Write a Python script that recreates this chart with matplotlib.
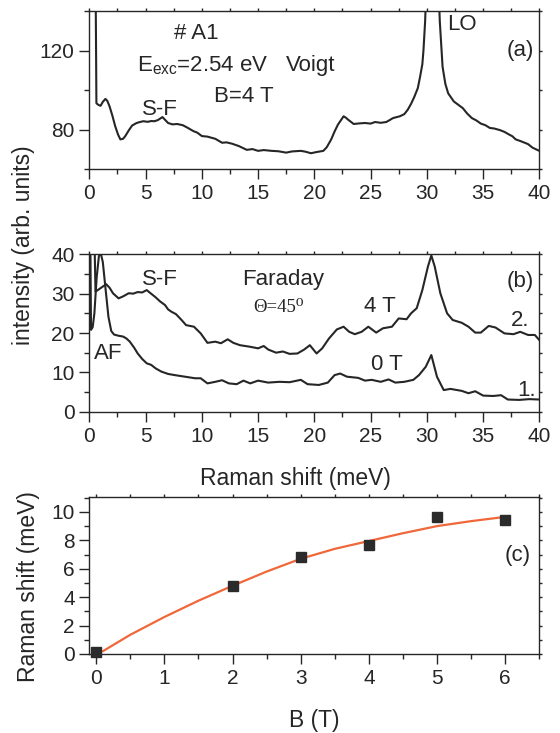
import numpy as np
import matplotlib
matplotlib.use('Agg')
import matplotlib.pyplot as plt
from matplotlib.ticker import MultipleLocator

plt.rcParams['font.family'] = ['Liberation Sans', 'DejaVu Sans']
plt.rcParams['mathtext.fontset'] = 'custom'
plt.rcParams['mathtext.rm'] = 'Liberation Sans'
plt.rcParams['mathtext.it'] = 'Liberation Sans:italic'

INK = '#262626'

# panel (a): Voigt geometry, B = 4 T
shift_a = [0.55, 0.6, 0.63, 0.8, 1.0, 1.2, 1.43, 1.6, 1.8, 2.05, 2.3, 2.55, 2.76, 3.0, 3.2,
           3.5, 3.8, 4.2, 4.5, 4.8, 5.2, 5.5, 5.8, 6.1, 6.5, 6.8, 7.0, 7.4, 7.8, 8.3,
           8.7, 9.25, 9.6, 10.0, 10.5, 11.2, 11.8, 12.2, 12.7, 13.3, 14.0, 14.5, 15.0, 15.5,
           16.2, 16.8, 17.5, 18.0, 18.8, 19.2, 19.7, 20.2, 20.8, 21.1, 21.5, 21.8, 22.1, 22.4,
           22.6, 22.8, 23.0, 23.5, 24.0, 24.5, 25.0, 25.4, 25.9, 26.4, 27.0, 27.6, 28.0, 28.3,
           28.6, 28.9, 29.2, 29.4, 29.6, 29.7, 29.85, 30.0, 30.5, 31.0, 31.15, 31.4, 31.65, 31.9,
           32.4, 32.8, 33.2, 33.6, 34.0, 34.4, 34.8, 35.2, 35.6, 36.0, 36.5, 36.9, 37.3, 37.6,
           37.9, 38.3, 38.7, 39.0, 39.4, 39.7, 40.0]
int_a = [160, 120, 93.3, 92.5, 92, 94, 95.5, 94.5, 91.7, 87, 81.7, 77.5, 75, 75.3, 76.7,
         79.5, 82, 83.3, 83.8, 84.2, 83.9, 84.3, 84.2, 84.8, 86.3, 84.5, 83.3, 82.6, 82.8, 82.2,
         81, 79.2, 78.4, 76.7, 76.4, 75.3, 73.3, 73.5, 72.8, 71.6, 69.7, 70.1, 69.2, 69.6,
         69.2, 69.0, 68.3, 68.9, 69.2, 68.8, 68.0, 68.6, 69.2, 71, 75, 79, 82.5, 85,
         86.7, 86, 85, 82.8, 83.1, 83.3, 83.0, 83.8, 83.4, 83.8, 85.8, 86.7, 87.8, 90,
         93, 96.7, 101, 106.7, 113, 120, 135, 160, 170, 160, 135, 111.7, 103, 98.3,
         94.2, 92.5, 90.8, 88, 85.8, 84.6, 83, 82.2, 80.8, 80.5, 79.7, 78.8, 77.5, 76.6,
         75, 74.2, 73.3, 72.6, 70.8, 70.0, 69.2]

# panel (b): Faraday geometry, curve 2 = 4 T, curve 1 = 0 T
shift_4t = [0.05, 0.45, 0.55, 0.8, 1.2, 1.5, 1.8, 2.1, 2.6, 3.0, 3.5, 3.9, 4.3, 4.7, 5.1,
            5.4, 5.84, 6.3, 6.73, 7.0, 7.3, 7.7, 8.2, 8.6, 9.3, 9.9, 10.5, 11.2, 11.7, 12.3,
            12.8, 13.4, 14.3, 15.0, 15.5, 15.9, 16.6, 17.2, 17.8, 18.5, 19.1, 19.6, 20.2, 20.7,
            21.3, 22.0, 22.6, 23.1, 23.6, 24.2, 24.8, 25.5, 26.1, 26.9, 27.5, 28.2, 28.6, 29.1,
            29.6, 30.1, 30.4, 30.7, 31.2, 31.8, 32.3, 33.1, 33.7, 34.3, 34.8, 35.5, 36.1, 36.9,
            37.7, 38.3, 39.0, 39.6, 40.0]
int_4t = [60, 45, 30.5, 31, 31.8, 32.4, 31.5, 30.1, 28.8, 29.3, 30.1, 30.0, 30.4, 30.3, 30.9,
          30.2, 29.2, 28.0, 27.1, 26.0, 25.4, 24.8, 23.3, 22.0, 21.6, 19.9, 17.5, 17.8, 17.4, 18.4,
          17.5, 16.9, 16.5, 16.1, 16.7, 15.8, 15.0, 15.3, 14.7, 14.8, 15.8, 16.9, 14.8, 16.1,
          18.6, 20.9, 21.6, 20.3, 19.7, 20.3, 21.6, 20.1, 21.2, 21.6, 23.7, 23.5, 25.0, 26.3,
          30.9, 36.9, 39.7, 36.9, 30.1, 25.0, 23.3, 22.6, 21.6, 20.1, 20.1, 21.8, 21.4, 19.9,
          19.7, 20.3, 19.5, 19.5, 18.2]

shift_0t = [0.05, 0.15, 0.3, 0.45, 0.65, 0.85, 1.0, 1.2, 1.45, 1.7, 1.95, 2.2, 2.6, 3.0, 3.3,
            3.6, 4.0, 4.3, 4.7, 5.1, 5.5, 5.9, 6.4, 7.0, 7.6, 8.5, 9.4, 9.9, 10.5, 11.2,
            11.8, 12.4, 13.1, 13.7, 14.3, 15.0, 15.9, 16.9, 17.8, 18.8, 19.4, 20.4, 21.2, 21.8,
            22.3, 22.9, 23.9, 24.5, 25.1, 25.9, 26.6, 27.2, 28.0, 28.8, 29.3, 29.9, 30.4, 30.9,
            31.5, 32.1, 33.1, 33.7, 34.3, 35.0, 35.9, 36.6, 37.2, 38.2, 39.1, 40.0]
int_0t = [60, 20.8, 21.5, 25, 34, 39.5, 40.5, 38, 31, 24.1, 20.5, 19.6, 19.3, 19.1, 18.6,
          17.8, 16.2, 14.8, 13.4, 12.3, 11.9, 11.0, 10.2, 9.6, 9.3, 8.9, 8.5, 8.5, 7.2, 7.6,
          8.0, 7.2, 7.0, 7.9, 7.2, 7.9, 7.4, 7.6, 7.5, 8.1, 7.0, 6.8, 7.4, 9.3,
          9.7, 8.9, 8.6, 7.9, 8.1, 7.6, 8.2, 7.4, 7.6, 8.1, 9.3, 11.4, 14.4, 8.9,
          5.5, 5.8, 5.3, 4.7, 5.2, 4.1, 4.0, 4.2, 3.1, 3.0, 3.2, 3.1]

# panel (c): S-F mode position vs field
field = [0, 2, 3, 4, 5, 6]
sf_shift = [0.15, 4.8, 6.82, 7.65, 9.62, 9.41]
fit_field = [0.1, 0.5, 1.0, 1.5, 2.0, 2.5, 3.0, 3.5, 4.0, 4.5, 5.0, 5.5, 6.0]
fit_shift = [0.2, 1.35, 2.6, 3.75, 4.8, 5.8, 6.7, 7.4, 7.95, 8.5, 9.0, 9.35, 9.65]

fig = plt.figure(figsize=(5.6, 7.33), dpi=100)
ax_a = fig.add_axes([0.1595, 0.7694, 0.8036, 0.2156])
ax_b = fig.add_axes([0.1595, 0.4383, 0.8036, 0.2148])
ax_c = fig.add_axes([0.1595, 0.1078, 0.8036, 0.2138])

tick_fs = 15
for ax in (ax_a, ax_b, ax_c):
    for sp in ax.spines.values():
        sp.set_color(INK)
        sp.set_linewidth(1.0)
    ax.tick_params(which='both', direction='out', colors=INK, labelsize=tick_fs,
                   top=True, right=True, width=1.0)
    ax.tick_params(which='major', length=7, pad=3.5)
    ax.tick_params(which='minor', length=3.5)
    ax.tick_params(axis='x', which='major', pad=4)

def short_top_right(ax):
    # ticks on top/right spines are small stubs
    for t in ax.xaxis.get_major_ticks() + ax.xaxis.get_minor_ticks():
        t.tick2line.set_markersize(2.5)
    for t in ax.yaxis.get_major_ticks() + ax.yaxis.get_minor_ticks():
        t.tick2line.set_markersize(2.5)

# (a)
ax_a.plot(shift_a, int_a, color=INK, lw=1.5)
ax_a.set_xlim(0, 40)
ax_a.set_ylim(60, 140)
ax_a.xaxis.set_major_locator(MultipleLocator(5))
ax_a.xaxis.set_minor_locator(MultipleLocator(2.5))
ax_a.yaxis.set_major_locator(MultipleLocator(40))
ax_a.yaxis.set_minor_locator(MultipleLocator(20))
fs = 16
ax_a.text(9.5, 128.5, '# A1', fontsize=fs, color=INK, ha='center', va='center')
ax_a.text(4.2, 112.5, r'E$_{\mathrm{exc}}$=2.54 eV', fontsize=fs, color=INK, ha='left', va='center')
ax_a.text(17.5, 112.5, 'Voigt', fontsize=fs, color=INK, ha='left', va='center')
ax_a.text(11.1, 96.7, 'B=4 T', fontsize=fs, color=INK, ha='left', va='center')
ax_a.text(4.7, 90, 'S-F', fontsize=fs, color=INK, ha='left', va='center')
ax_a.text(31.8, 133, 'LO', fontsize=fs, color=INK, ha='left', va='center')
ax_a.text(39.5, 120, '(a)', fontsize=fs, color=INK, ha='right', va='center')

# (b)
ax_b.plot(shift_4t, int_4t, color=INK, lw=1.5)
ax_b.plot(shift_0t, int_0t, color=INK, lw=1.5)
ax_b.set_xlim(0, 40)
ax_b.set_ylim(0, 40)
ax_b.xaxis.set_major_locator(MultipleLocator(5))
ax_b.xaxis.set_minor_locator(MultipleLocator(2.5))
ax_b.yaxis.set_major_locator(MultipleLocator(10))
ax_b.yaxis.set_minor_locator(MultipleLocator(5))
ax_b.text(4.7, 33.5, 'S-F', fontsize=fs, color=INK, ha='left', va='center')
ax_b.text(13.6, 33.5, 'Faraday', fontsize=fs, color=INK, ha='left', va='center')
ax_b.text(14.6, 26.5, 'Θ=45⁰', fontsize=13.5, color=INK, ha='left', va='center',
          family=['Liberation Serif', 'DejaVu Serif'])
ax_b.text(24.4, 26.7, '4 T', fontsize=fs, color=INK, ha='left', va='center')
ax_b.text(0.4, 14.8, 'AF', fontsize=fs, color=INK, ha='left', va='center')
ax_b.text(25.0, 11.9, '0 T', fontsize=fs, color=INK, ha='left', va='center')
ax_b.text(37.5, 23.3, '2.', fontsize=fs, color=INK, ha='left', va='center')
ax_b.text(38.0, 5.5, '1.', fontsize=fs, color=INK, ha='left', va='center')
ax_b.text(39.5, 33.2, '(b)', fontsize=fs, color=INK, ha='right', va='center')
ax_b.set_xlabel('Raman shift (meV)', fontsize=16.5, color=INK)
ax_b.xaxis.set_label_coords((295 - 89.3) / 450, -0.351)

fig.text(24 / 560, 0.666, 'intensity (arb. units)', rotation=90, fontsize=16.5,
         color=INK, ha='center', va='center')

# (c)
ax_c.plot(fit_field, fit_shift, color='#f0683a', lw=1.6, zorder=2)
ax_c.plot(field, sf_shift, ls='none', marker='s', ms=7.5, color='#2b2b2b',
          zorder=3, clip_on=False)
ax_c.set_xlim(-0.1, 6.5)
ax_c.set_ylim(0, 11.03)
ax_c.xaxis.set_major_locator(MultipleLocator(1))
ax_c.xaxis.set_minor_locator(MultipleLocator(0.5))
ax_c.yaxis.set_major_locator(MultipleLocator(2))
ax_c.yaxis.set_minor_locator(MultipleLocator(1))
ax_c.text(6.38, 6.9, '(c)', fontsize=fs, color=INK, ha='right', va='center')
fig.text(29 / 560, 1 - 587 / 733, 'Raman shift (meV)', rotation=90, fontsize=16.5,
         color=INK, ha='center', va='center')
fig.text(314 / 560, 1 - 720 / 733, 'B (T)', fontsize=16.5, color=INK,
         ha='center', va='center')

for ax in (ax_a, ax_b, ax_c):
    short_top_right(ax)

fig.savefig('out.png', dpi=100)
